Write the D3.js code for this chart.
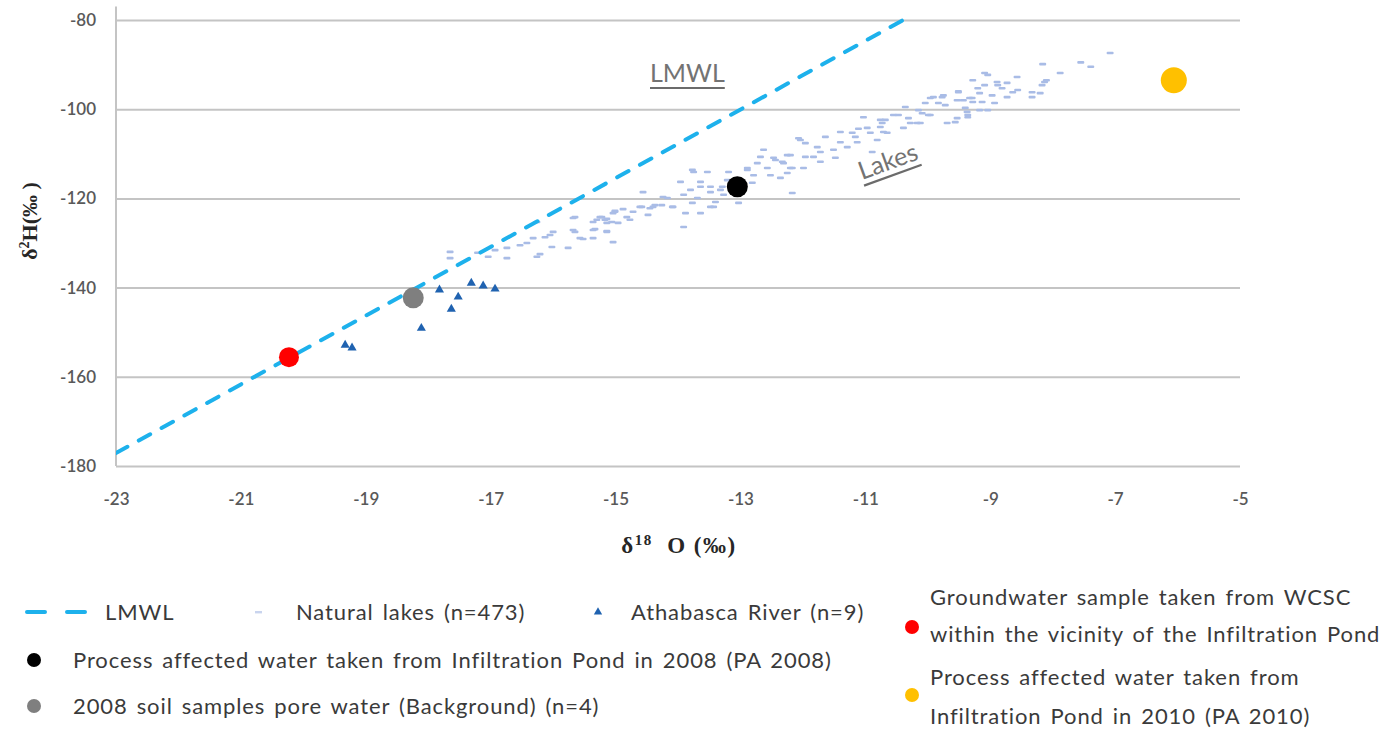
<!DOCTYPE html>
<html>
<head>
<meta charset="utf-8">
<script src="https://cdn.jsdelivr.net/npm/d3@7"></script>
<style>
  body { margin: 0; background: #ffffff; }
  svg { display: block; }
</style>
</head>
<body>
<svg id="chart" width="1381" height="731"></svg>
<script>
// ---- data: δ18O (‰), δ2H (‰) ----
const lmwl = [[-23, -177.1], [-10.25, -78.9]];

const naturalLakes = [
  [-17.65,-132.0],[-17.65,-133.4],[-17.21,-132.2],[-17.04,-133.1],[-16.93,-131.6],[-16.74,-131.1],
  [-16.74,-133.4],[-16.53,-130.5],[-16.42,-130.0],[-16.32,-128.9],[-16.26,-133.1],[-16.21,-132.5],
  [-16.13,-128.7],[-16.05,-128.2],[-16.00,-127.5],[-16.02,-130.9],[-15.76,-131.1],[-15.68,-124.4],
  [-15.65,-127.5],[-15.52,-129.1],[-15.36,-128.9],[-15.33,-126.9],[-15.30,-124.8],[-15.22,-124.2],
  [-15.14,-124.6],[-15.14,-127.3],[-15.06,-125.3],[-15.04,-129.8],[-15.01,-122.8],[-16.26,-125.3],
  [-15.57,-128.9],[-15.36,-127.1],[-15.65,-124.2],[-15.14,-125.5],
  [-15.25,-124.2],[-15.17,-124.8],[-15.01,-123.0],[-14.88,-122.4],[-14.72,-123.0],[-14.77,-124.8],
  [-14.96,-125.5],[-15.14,-127.5],[-14.58,-121.9],[-14.45,-122.2],[-14.48,-123.7],[-14.37,-121.5],
  [-14.26,-121.5],[-14.17,-119.9],[-14.09,-121.9],[-14.56,-118.6],[-13.96,-116.3],[-13.91,-119.2],
  [-13.88,-123.3],[-13.77,-121.0],[-13.80,-118.1],[-13.77,-113.6],[-13.69,-119.9],[-13.64,-117.4],
  [-13.64,-123.3],[-13.53,-114.1],[-13.48,-117.4],[-13.48,-121.9],[-13.48,-118.6],[-13.40,-120.8],
  [-13.32,-118.1],[-13.27,-119.2],[-13.19,-114.1],[-13.21,-115.9],[-13.03,-121.0],[-12.89,-113.2],
  [-12.81,-116.5],[-12.79,-114.8],[-12.73,-112.1],[-12.68,-110.7],[-12.63,-109.1],[-12.57,-113.2],
  [-12.52,-114.8],[-12.47,-110.9],[-12.36,-115.4],[-12.31,-112.1],[-12.25,-114.3],[-12.20,-110.3],
  [-12.17,-113.2],[-12.17,-118.8],[-13.91,-126.4],[-14.24,-119.7],[-13.75,-114.1],[-13.64,-116.3],
  [-14.08,-121.9],[-14.40,-121.9],[-14.61,-121.9],[-15.04,-123.3],[-15.36,-125.3],[-15.68,-127.1],
  [-13.29,-117.4],[-13.43,-121.9],[-14.82,-124.2],[-12.44,-111.4],[-12.89,-113.6],
  [-12.33,-111.8],[-12.25,-110.3],[-12.20,-113.2],[-12.04,-106.9],[-11.96,-107.6],[-11.96,-110.7],
  [-11.83,-110.7],[-11.99,-113.2],[-11.77,-108.5],[-11.72,-109.6],[-11.72,-111.8],[-11.64,-106.2],
  [-11.51,-109.1],[-11.48,-110.9],[-11.40,-105.1],[-11.40,-107.4],[-11.29,-108.5],[-11.21,-105.3],
  [-11.16,-106.2],[-11.13,-107.4],[-11.11,-104.4],[-11.03,-101.8],[-10.97,-104.2],[-10.92,-105.3],
  [-10.89,-109.6],[-10.81,-106.9],[-10.76,-104.0],[-10.73,-103.1],[-10.68,-102.4],[-10.65,-105.3],
  [-10.55,-101.3],[-10.47,-101.3],[-10.39,-104.2],[-10.36,-99.5],[-10.31,-102.0],[-10.17,-103.1],
  [-10.15,-100.2],[-10.09,-100.9],[-10.04,-98.6],[-9.96,-101.3],[-9.91,-97.3],[-9.83,-98.6],
  [-9.75,-96.9],[-9.72,-99.1],[-9.69,-103.1],[-9.56,-102.9],[-9.51,-96.2],[-9.43,-98.0],
  [-9.40,-99.7],[-9.36,-101.3],[-9.29,-97.5],[-12.07,-106.5],[-10.71,-105.1],[-10.76,-102.4],
  [-10.28,-103.1],[-10.12,-103.1],[-9.99,-101.3],[-9.53,-102.0],[-9.77,-97.3],[-9.96,-97.5],
  [-9.53,-98.0],
  [-9.37,-100.6],[-9.36,-101.8],[-9.33,-97.5],[-9.28,-98.4],[-9.20,-95.3],[-9.17,-96.4],
  [-9.13,-98.4],[-9.09,-94.6],[-9.09,-91.9],[-9.04,-92.3],[-9.04,-100.2],[-9.17,-100.2],
  [-8.97,-96.9],[-8.93,-98.6],[-8.89,-93.9],[-8.88,-94.6],[-8.81,-95.3],[-8.73,-94.1],
  [-8.73,-97.3],[-8.64,-96.2],[-8.57,-92.8],[-8.56,-95.7],[-8.33,-96.2],[-8.33,-97.3],
  [-8.20,-96.4],[-8.17,-94.6],[-8.13,-93.9],[-8.10,-93.5],[-8.16,-89.9],[-7.88,-91.9],
  [-7.55,-89.5],[-7.39,-90.5],[-7.08,-87.4],[-9.28,-93.5],[-9.51,-96.0]
];

const athabascaRiver = [
  [-19.33,-152.9],[-19.22,-153.5],[-18.11,-149.1],[-17.82,-140.5],[-17.63,-144.8],
  [-17.52,-142.1],[-17.31,-139.0],[-17.12,-139.6],[-16.93,-140.3]
];
const groundwaterWCSC = [[-20.23, -155.6]];
const soilPoreWater = [[-18.24, -142.3]];
const pa2008 = [[-13.05, -117.4]];
const pa2010 = [[-6.06, -93.5]];

const xTicks = [-23, -21, -19, -17, -15, -13, -11, -9, -7, -5];
const yTicks = [-80, -100, -120, -140, -160, -180];

// ---- layout ----
const svg = d3.select("#chart");
const plotLeft = 116, plotRight = 1240, plotBottom = 466, plotTop = 6.6;
const x = d3.scaleLinear().domain([-23, -5]).range([plotLeft, plotRight]);
const y = d3.scaleLinear().domain([-180, -77]).range([plotBottom, plotTop]);

const COL = {
  grid: "#c4c4c4", tick: "#595959", lmwl: "#1db1ec", lake: "#a9bce6",
  river: "#1f62b0", red: "#ff0000", gray: "#7f7f7f", black: "#000000", orange: "#ffc000",
  note: "#737373", legend: "#3a3a3a"
};
const uiFont = "Lato, 'Open Sans', sans-serif";
const serif = "'Liberation Serif', 'Times New Roman', serif";
const plainNum = d => String(d);   // hyphen-minus labels

// gridlines + y labels
const yAxis = svg.append("g").attr("transform", `translate(${plotLeft},0)`)
  .call(d3.axisLeft(y).tickValues(yTicks).tickFormat(plainNum)
    .tickSize(-(plotRight - plotLeft)).tickPadding(20));
yAxis.select(".domain").remove();
yAxis.selectAll(".tick line").attr("stroke", COL.grid).attr("stroke-width", 2);
yAxis.selectAll(".tick text").attr("fill", COL.tick)
  .style("font-family", uiFont).style("font-size", "17px").style("font-weight", "600");

// vertical axis line
svg.append("line").attr("x1", plotLeft).attr("x2", plotLeft).attr("y1", y(-180)).attr("y2", y(-77))
  .attr("stroke", COL.grid).attr("stroke-width", 2);

// x labels
const xAxis = svg.append("g").attr("transform", `translate(0,${plotBottom})`)
  .call(d3.axisBottom(x).tickValues(xTicks).tickFormat(plainNum).tickSize(0).tickPadding(27));
xAxis.select(".domain").remove();
xAxis.selectAll(".tick text").attr("fill", COL.tick)
  .style("font-family", uiFont).style("font-size", "17px").style("font-weight", "600");

// axis titles
const yTitle = svg.append("text")
  .attr("transform", "translate(37,221) rotate(-90)")
  .attr("text-anchor", "middle")
  .style("font-family", serif).style("font-weight", "bold").style("font-size", "22px")
  .attr("fill", "#262626");
yTitle.append("tspan").text("δ");
yTitle.append("tspan").attr("dy", -8).style("font-size", "14px").text("2");
yTitle.append("tspan").attr("dy", 8).text("H(‰ )");

const xTitle = svg.append("text")
  .attr("x", 679).attr("y", 553)
  .attr("text-anchor", "middle")
  .style("font-family", serif).style("font-weight", "bold").style("font-size", "23px")
  .style("letter-spacing", "1.5px")
  .attr("fill", "#262626");
xTitle.append("tspan").text("δ");
xTitle.append("tspan").attr("dy", -8).style("font-size", "15px").text("18");
xTitle.append("tspan").attr("dy", 8).text("\u00a0\u00a0O (‰)");

// plot clip
svg.append("clipPath").attr("id", "plotClip").append("rect")
  .attr("x", plotLeft).attr("y", 0).attr("width", plotRight - plotLeft).attr("height", plotBottom);

const plot = svg.append("g").attr("clip-path", "url(#plotClip)");

// natural lakes (dash markers)
plot.append("g").selectAll("rect").data(naturalLakes).join("rect")
  .attr("x", d => x(d[0]) - 3.5).attr("y", d => y(d[1]) - 1.3)
  .attr("width", 7).attr("height", 2.6).attr("rx", 1)
  .attr("fill", COL.lake);

// LMWL
plot.append("path").datum(lmwl)
  .attr("d", d3.line().x(d => x(d[0])).y(d => y(d[1])))
  .attr("fill", "none").attr("stroke", COL.lmwl).attr("stroke-width", 4)
  .attr("stroke-dasharray", "13,13").attr("stroke-linecap", "round");

// Athabasca River triangles
const tri = d3.symbol().type(d3.symbolTriangle).size(36);
plot.append("g").selectAll("path").data(athabascaRiver).join("path")
  .attr("d", tri).attr("transform", d => `translate(${x(d[0])},${y(d[1])})`)
  .attr("fill", COL.river);

// single samples
function dots(data, color, r) {
  plot.append("g").selectAll("circle").data(data).join("circle")
    .attr("cx", d => x(d[0])).attr("cy", d => y(d[1])).attr("r", r).attr("fill", color);
}
dots(soilPoreWater, COL.gray, 10.5);
dots(groundwaterWCSC, COL.red, 10);
dots(pa2008, COL.black, 10.5);
dots(pa2010, COL.orange, 13);

// in-plot notes
function underlinedNote(tx, ty, angle, label) {
  const g = svg.append("g").attr("transform", `translate(${tx},${ty}) rotate(${angle})`);
  const t = g.append("text").attr("x", 0).attr("y", 0).text(label)
    .style("font-family", uiFont).style("font-size", "25px").attr("fill", COL.note);
  const w = t.node().getComputedTextLength();
  g.append("line").attr("x1", 0).attr("x2", w).attr("y1", 6).attr("y2", 6)
    .attr("stroke", "#6b6b6b").attr("stroke-width", 2.2);
}
underlinedNote(650, 82, 0, "LMWL");
underlinedNote(862, 180, -20, "Lakes");

// ---- legend ----
const lg = svg.append("g").style("font-family", uiFont).style("font-size", "22px")
  .style("letter-spacing", "0.9px").style("word-spacing", "2.5px");
function legText(tx, ty, s) {
  lg.append("text").attr("x", tx).attr("y", ty).attr("dy", "0.35em").attr("fill", COL.legend).text(s);
}
lg.append("line").attr("x1", 27).attr("x2", 92).attr("y1", 612).attr("y2", 612)
  .attr("stroke", COL.lmwl).attr("stroke-width", 4).attr("stroke-dasharray", "18,22")
  .attr("stroke-linecap", "round");
legText(105, 612, "LMWL");
lg.append("rect").attr("x", 255).attr("y", 611).attr("width", 7).attr("height", 2.4).attr("fill", "#c9d4ee");
legText(296, 612, "Natural lakes (n=473)");
lg.append("path").attr("d", d3.symbol().type(d3.symbolTriangle).size(30))
  .attr("transform", "translate(598,612)").attr("fill", COL.river);
legText(631, 612, "Athabasca River (n=9)");

lg.append("circle").attr("cx", 34).attr("cy", 660).attr("r", 7).attr("fill", COL.black);
legText(73, 660, "Process affected water taken from Infiltration Pond in 2008 (PA 2008)");
lg.append("circle").attr("cx", 34).attr("cy", 706).attr("r", 7).attr("fill", COL.gray);
legText(73, 706, "2008 soil samples pore water (Background) (n=4)");

lg.append("circle").attr("cx", 912).attr("cy", 627).attr("r", 7).attr("fill", COL.red);
legText(930, 597, "Groundwater sample taken from WCSC");
legText(930, 634, "within the vicinity of the Infiltration Pond");
lg.append("circle").attr("cx", 912).attr("cy", 695).attr("r", 7).attr("fill", COL.orange);
legText(930, 677, "Process affected water taken from");
legText(930, 716, "Infiltration Pond in 2010 (PA 2010)");
</script>
</body>
</html>
